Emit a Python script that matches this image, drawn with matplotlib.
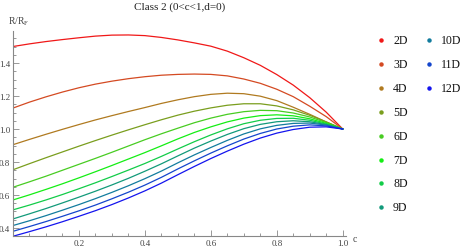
import matplotlib
matplotlib.use("Agg")
import matplotlib.pyplot as plt
from matplotlib.lines import Line2D
from matplotlib.ticker import MultipleLocator, FixedLocator

plt.rcParams['font.family'] = ['Liberation Serif', 'DejaVu Serif']
plt.rcParams['mathtext.fontset'] = 'custom'
plt.rcParams['mathtext.rm'] = 'Liberation Serif'
plt.rcParams['mathtext.it'] = 'Liberation Serif:italic'

c = [0.0, 0.05, 0.1, 0.15, 0.2, 0.25, 0.3, 0.35, 0.4, 0.45, 0.5,
     0.55, 0.6, 0.65, 0.7, 0.75, 0.8, 0.85, 0.9, 0.95, 1.0]

r2d = [1.500, 1.516, 1.530, 1.542, 1.553, 1.563, 1.569, 1.570, 1.566, 1.555, 1.540,
       1.522, 1.502, 1.472, 1.432, 1.386, 1.330, 1.266, 1.190, 1.102, 1.0]
r3d = [1.127, 1.163, 1.195, 1.224, 1.250, 1.272, 1.290, 1.305, 1.317, 1.326, 1.331,
       1.333, 1.331, 1.322, 1.303, 1.277, 1.241, 1.196, 1.138, 1.075, 1.0]
r4d = [0.905, 0.937, 0.968, 0.998, 1.027, 1.055, 1.081, 1.106, 1.130, 1.155, 1.177,
       1.196, 1.210, 1.217, 1.214, 1.199, 1.172, 1.132, 1.089, 1.043, 1.0]
r5d = [0.753, 0.790, 0.826, 0.861, 0.896, 0.930, 0.963, 0.995, 1.026, 1.056, 1.084,
       1.108, 1.128, 1.144, 1.153, 1.153, 1.140, 1.116, 1.083, 1.043, 1.0]
r6d = [0.647, 0.680, 0.714, 0.750, 0.786, 0.822, 0.859, 0.897, 0.935, 0.971, 1.005,
       1.038, 1.066, 1.089, 1.105, 1.113, 1.111, 1.097, 1.073, 1.039, 1.0]
r7d = [0.570, 0.601, 0.634, 0.668, 0.704, 0.741, 0.779, 0.818, 0.857, 0.898, 0.940,
       0.979, 1.013, 1.043, 1.066, 1.081, 1.086, 1.080, 1.062, 1.034, 1.0]
r8d = [0.510, 0.539, 0.570, 0.603, 0.638, 0.674, 0.712, 0.751, 0.791, 0.834, 0.879,
       0.923, 0.964, 1.001, 1.032, 1.053, 1.064, 1.065, 1.053, 1.030, 1.0]
r9d = [0.455, 0.486, 0.518, 0.552, 0.587, 0.623, 0.661, 0.701, 0.744, 0.789, 0.837,
       0.884, 0.927, 0.967, 1.002, 1.028, 1.044, 1.050, 1.044, 1.027, 1.0]
r10d = [0.415, 0.444, 0.475, 0.508, 0.542, 0.578, 0.616, 0.656, 0.699, 0.745, 0.795,
        0.843, 0.888, 0.931, 0.970, 1.001, 1.022, 1.034, 1.036, 1.024, 1.0]
r11d = [0.380, 0.409, 0.439, 0.471, 0.504, 0.539, 0.577, 0.617, 0.660, 0.707, 0.758,
        0.807, 0.854, 0.898, 0.939, 0.973, 1.000, 1.017, 1.025, 1.019, 1.0]
r12d = [0.350, 0.378, 0.407, 0.438, 0.471, 0.505, 0.542, 0.582, 0.625, 0.672, 0.723,
        0.773, 0.821, 0.866, 0.908, 0.945, 0.975, 0.997, 1.011, 1.013, 1.0]

labels = ['2D', '3D', '4D', '5D', '6D', '7D', '8D', '9D', '10D', '11D', '12D']
series = [r2d, r3d, r4d, r5d, r6d, r7d, r8d, r9d, r10d, r11d, r12d]
colors = ['#f01818', '#d44a22', '#b07a20', '#7a9e1e', '#48cc22', '#14ee14',
          '#12cc48', '#129a7a', '#127c9e', '#1446cc', '#1414ee']

title = 'Class 2 (0<c<1,d=0)'
xticks = [0.2, 0.4, 0.6, 0.8, 1.0]
yticks = [0.4, 0.6, 0.8, 1.0, 1.2, 1.4]

W, H = 472, 253
fig = plt.figure(figsize=(W / 100, H / 100), dpi=100)
ax = fig.add_axes([13 / W, 16 / H, (346 - 13) / W, (237 - 32) / H])

for ys, col in zip(series, colors):
    ax.plot(c, ys, color=col, lw=0.9, solid_joinstyle='round')

ax.set_xlim(0, 1.01)
ax.set_ylim(0.3515, 1.594)
for s in ['top', 'right']:
    ax.spines[s].set_visible(False)
for s in ['left', 'bottom']:
    ax.spines[s].set_color('#888888')
    ax.spines[s].set_linewidth(0.8)

ax.xaxis.set_major_locator(FixedLocator(xticks))
ax.yaxis.set_major_locator(FixedLocator(yticks))
ax.xaxis.set_minor_locator(MultipleLocator(0.05))
ax.yaxis.set_minor_locator(MultipleLocator(0.05))
ax.set_xticklabels([f'{v:.1f}' for v in xticks])
ax.set_yticklabels([f'{v:.1f}' for v in yticks])
ax.tick_params(which='both', direction='in', color='#888888', labelcolor='#444444',
               labelsize=6.5, width=0.6)
ax.tick_params(which='major', length=4, pad=2)
ax.tick_params(which='minor', length=2)

ax.set_title(title, fontsize=8, pad=16, color='#222222')
fig.text(8 / W, 1 - 22 / H, r'$\mathrm{R/R_F}$', fontsize=7, color='#444444',
         va='center', ha='left')
fig.text(353 / W, 1 - 240 / H, 'c', fontsize=7, color='#444444', va='center', ha='left')

# legend
for i, (lab, col) in enumerate(zip(labels, colors)):
    colidx = 0 if i < 8 else 1
    row = i if i < 8 else i - 8
    mx = (381 if colidx == 0 else 429) / W
    tx = (393 if colidx == 0 else 441) / W
    yy = 1 - (41 + row * 23.9) / H
    fig.add_artist(Line2D([mx], [yy], marker='o', markersize=2.2, color=col,
                          linestyle='none', transform=fig.transFigure))
    fig.text(tx, yy, lab, fontsize=8.5, va='center', ha='left', color='#111111')

fig.savefig('out.png', dpi=100)
